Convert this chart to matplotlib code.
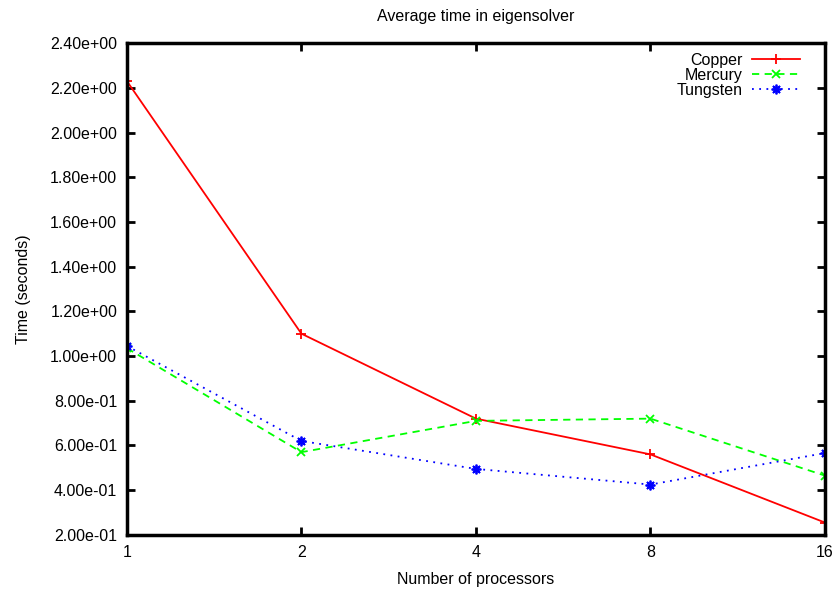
import matplotlib
matplotlib.use("Agg")
import matplotlib.pyplot as plt
from matplotlib.ticker import FixedLocator, NullLocator

plt.rcParams['font.family'] = ['Liberation Sans', 'DejaVu Sans']

procs = [1, 2, 4, 8, 16]
copper = [2.23, 1.10, 0.72, 0.56, 0.255]
mercury = [1.035, 0.57, 0.71, 0.72, 0.465]
tungsten = [1.045, 0.62, 0.495, 0.425, 0.566]
yticks = [0.2, 0.4, 0.6, 0.8, 1.0, 1.2, 1.4, 1.6, 1.8, 2.0, 2.2, 2.4]

fig = plt.figure(figsize=(8.35, 5.91), dpi=100)
ax = fig.add_axes([0.152, 0.095, 0.836, 0.832])

ax.plot(procs, copper, color='#ff0000', lw=1.3, ls='-', marker='+', ms=7, mew=1.3, label='Copper')
ax.plot(procs, mercury, color='#00ff00', lw=1.3, ls=(0, (4, 3)), marker='x', ms=6, mew=1.3, label='Mercury')
ax.plot(procs, tungsten, color='#0000ff', lw=1.3, ls=(0, (1, 3)), marker=(8, 2, 0), ms=7, mew=1.3, label='Tungsten')

ax.set_xscale('log', base=2)
ax.set_xlim(1, 16)
ax.xaxis.set_major_locator(FixedLocator(procs))
ax.xaxis.set_minor_locator(NullLocator())
ax.set_xticklabels([str(p) for p in procs])
ax.set_ylim(0.2, 2.4)
ax.set_yticks(yticks)
ax.set_yticklabels(['%.2e' % v for v in yticks])

ax.tick_params(direction='in', length=6, width=2, top=True, right=True, labelsize=11.5, pad=7)
for s in ax.spines.values():
    s.set_linewidth(2.5)

ax.set_title('Average time in eigensolver', fontsize=11.5, pad=16)
ax.set_xlabel('Number of processors', fontsize=11.5, labelpad=9)
ax.set_ylabel('Time (seconds)', fontsize=11.5, labelpad=14)

ax.legend(loc='upper right', bbox_to_anchor=(0.978, 1.0), markerfirst=False, frameon=False,
          fontsize=11.5, handlelength=3.0, labelspacing=0.0, borderaxespad=0.3,
          handletextpad=0.6, borderpad=0.3)

fig.savefig('out.png', dpi=100)
